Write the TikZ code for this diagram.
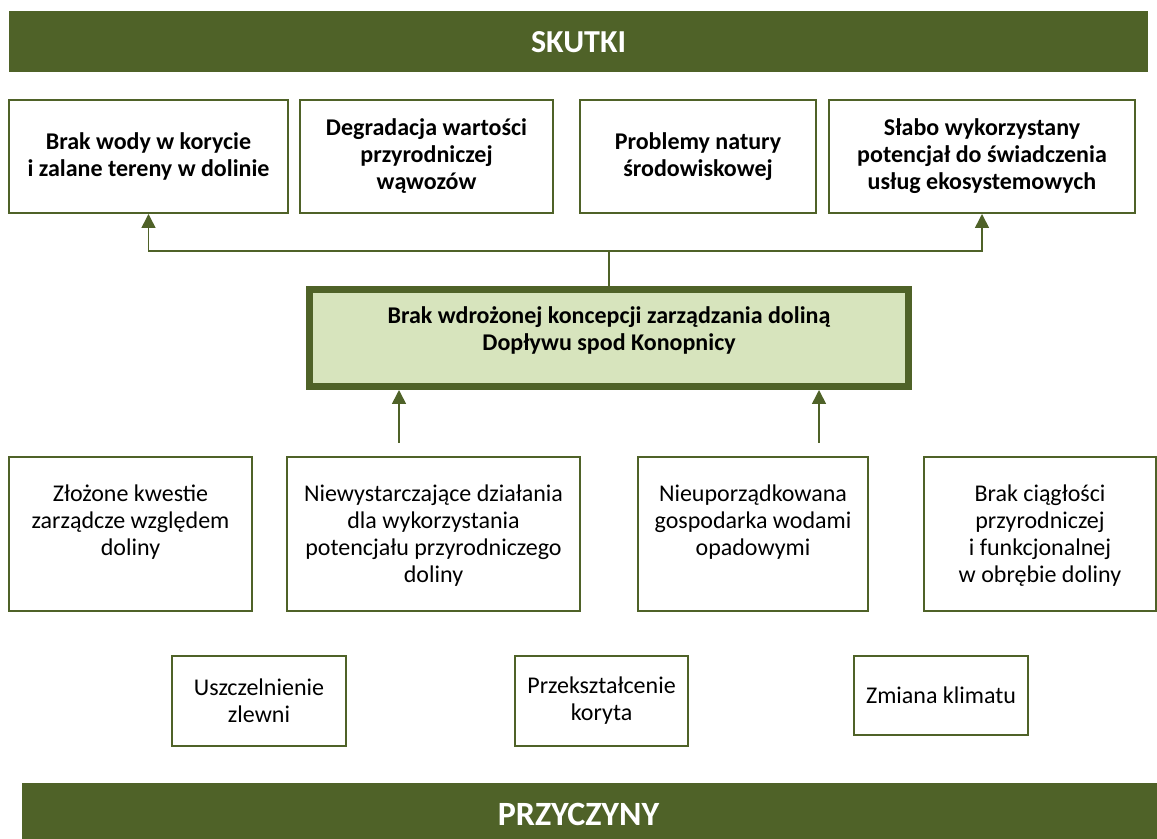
\documentclass[tikz,border=0pt]{standalone}
\usepackage{fontspec}
\setmainfont{Carlito}
\usetikzlibrary{arrows.meta,positioning}
\definecolor{oliwka}{HTML}{4F6228}
\definecolor{jasnaOliwka}{HTML}{D7E4BD}

\begin{document}
\begin{tikzpicture}[x=0.5pt,y=-0.5pt,
        pasek/.style={fill=oliwka,text=white,inner sep=0pt,font=\fontsize{16}{19}\selectfont\bfseries},
        skutek/.style={draw=oliwka,line width=1pt,fill=white,align=center,inner sep=0pt,minimum height=56.5pt,font=\fontsize{12}{13.5}\selectfont\bfseries},
        przyczyna/.style={draw=oliwka,line width=1pt,fill=white,inner sep=0pt,minimum height=77pt},
        opis/.style={align=center,inner sep=0pt,font=\fontsize{12}{13.5}\selectfont},
        glowny/.style={draw=oliwka,line width=3.5pt,fill=jasnaOliwka,align=center,inner sep=0pt,font=\fontsize{12}{13.5}\selectfont\bfseries},
        link/.style={draw=oliwka,line width=0.8pt,-{Triangle[width=7pt,length=7pt]}}]
        \useasboundingbox (0,0) rectangle (1157,839);

        % paski tytulowe
        \node[pasek,minimum width=569.5pt,minimum height=30.5pt] (skutki) at (578.5,42) {SKUTKI};
        \node[pasek,minimum width=567.5pt,minimum height=28pt] (przyczyny) at (589.5,811) {};
        \node[pasek,fill=none,font=\fontsize{17}{20}\selectfont\bfseries] (przyczynyTxt) at (578.5,814) {PRZYCZYNY};

        % skutki
        \node[skutek,minimum width=139.5pt] (brakWody) at (148.5,156.5) {Brak wody w korycie\\i zalane tereny w dolinie};
        \node[skutek,minimum width=126.5pt] (degradacja) at (426.5,156.5) {Degradacja wartości\\przyrodniczej\\wąwozów};
        \node[skutek,minimum width=118pt] (problemy) at (698,156.5) {Problemy natury\\środowiskowej};
        \node[skutek,minimum width=153pt] (slaboWyk) at (982,156.5) {Słabo wykorzystany\\potencjał do świadczenia\\usług ekosystemowych};

        % problem glowny
        \node[glowny,minimum width=299.5pt,minimum height=48.5pt] (kon) at (609,338) {Brak wdrożonej koncepcji zarządzania doliną\\Dopływu spod Konopnicy\\[-4pt]};

        % przyczyny
        \node[przyczyna,minimum width=121.5pt] (zlozone) at (130.5,534) {};
        \node[przyczyna,minimum width=146.5pt] (niewystarczajace) at (433.5,534) {};
        \node[przyczyna,minimum width=115pt] (nieuporzadkowana) at (753,534) {};
        \node[przyczyna,minimum width=116pt] (brakCiaglosci) at (1040,534) {};

        \node[opis,anchor=north] (zlozoneTxt) at ([yshift=-14pt]zlozone.north) {Złożone kwestie\\zarządcze względem\\doliny};
        \node[opis,anchor=north] (niewystarczajaceTxt) at ([yshift=-14pt]niewystarczajace.north) {Niewystarczające działania\\dla wykorzystania\\potencjału przyrodniczego\\doliny};
        \node[opis,anchor=north] (nieuporzadkowanaTxt) at ([yshift=-14pt]nieuporzadkowana.north) {Nieuporządkowana\\gospodarka wodami\\opadowymi};
        \node[opis,anchor=north] (brakCiaglosciTxt) at ([yshift=-14pt]brakCiaglosci.north) {Brak ciągłości\\przyrodniczej\\i funkcjonalnej\\w obrębie doliny};

        % przyczyny glebsze
        \node[przyczyna,opis,minimum width=87pt,minimum height=45pt] (uszczelnienie) at (259,701) {Uszczelnienie\\zlewni};
        \node[przyczyna,opis,minimum width=86.5pt,minimum height=45pt] (przeksztalcenie) at (601.5,701) {Przekształcenie\\koryta};
        \node[przyczyna,opis,minimum width=87pt,minimum height=39.5pt] (zmianaKlimatu) at (941,695.5) {Zmiana klimatu};

        % polaczenia do skutkow
        \coordinate (szyna) at (0,251);
        \draw[link] (kon.north) -- (kon.north |- szyna) -| (brakWody.south);
        \draw[link] (kon.north |- szyna) -| (slaboWyk.south);

        % strzalki od przyczyn
        \coordinate (odNiewyst) at (399,443);
        \coordinate (odNieup) at (819,443);
        \draw[link] (odNiewyst) -- (odNiewyst |- kon.south);
        \draw[link] (odNieup) -- (odNieup |- kon.south);
    \end{tikzpicture}
\end{document}
